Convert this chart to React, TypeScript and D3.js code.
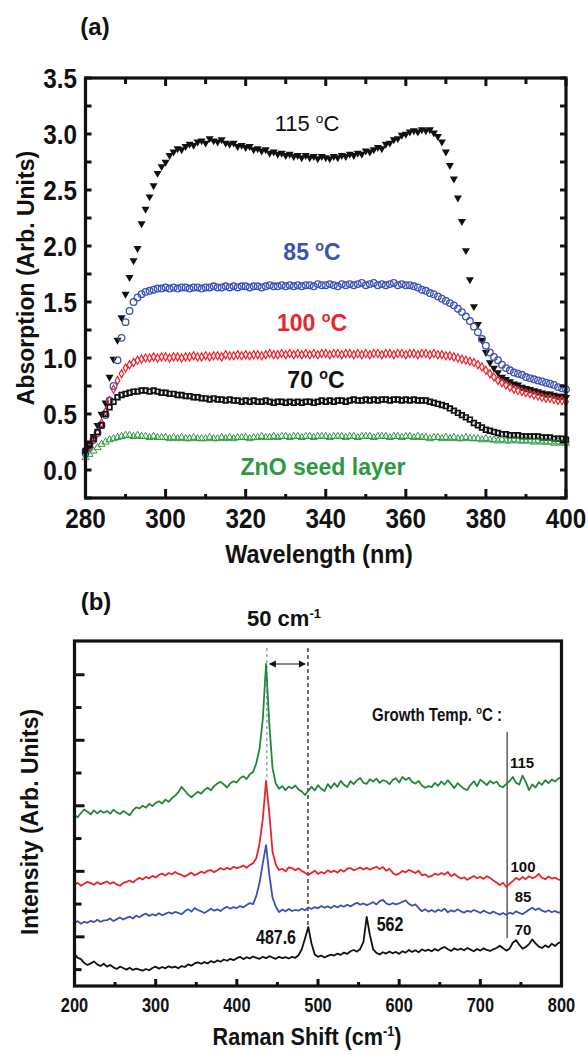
import React from "react";
import * as d3 from "d3";

// ---------- Panel (a): absorption spectra, 1 nm steps from 280 to 400 nm ----------
const wavelengths = d3.range(280, 401, 1);

const abs115 = [
  0.16, 0.22, 0.30, 0.40, 0.50, 0.60, 0.83, 0.99, 1.16, 1.36,
  1.57, 1.72, 1.87, 1.98, 2.20, 2.33, 2.44, 2.54, 2.65, 2.71,
  2.75, 2.81, 2.84, 2.87, 2.86, 2.89, 2.91, 2.90, 2.93, 2.94,
  2.92, 2.96, 2.94, 2.93, 2.95, 2.92, 2.91, 2.92, 2.89, 2.90,
  2.88, 2.89, 2.86, 2.87, 2.85, 2.86, 2.83, 2.84, 2.82, 2.83,
  2.81, 2.82, 2.80, 2.81, 2.79, 2.81, 2.79, 2.80, 2.78, 2.80,
  2.79, 2.78, 2.80, 2.79, 2.81, 2.80, 2.82, 2.81, 2.83, 2.82,
  2.85, 2.84, 2.86, 2.88, 2.87, 2.91, 2.92, 2.95, 2.96, 2.99,
  3.00, 3.02, 3.03, 3.02, 3.04, 3.03, 3.04, 3.01, 2.98, 2.93,
  2.84, 2.72, 2.60, 2.43, 2.22, 1.96, 1.70, 1.46, 1.30, 1.16,
  1.05, 0.96, 0.91, 0.87, 0.83, 0.81, 0.79, 0.77, 0.76, 0.74,
  0.73, 0.72, 0.71, 0.70, 0.69, 0.68, 0.68, 0.67, 0.66, 0.66, 0.65,
];

const abs85 = [
  0.15, 0.20, 0.27, 0.33, 0.40, 0.49, 0.62, 0.75, 0.98, 1.18,
  1.32, 1.42, 1.50, 1.54, 1.57, 1.59, 1.60, 1.61, 1.62, 1.62,
  1.63, 1.62, 1.63, 1.62, 1.63, 1.63, 1.62, 1.63, 1.63, 1.62,
  1.63, 1.63, 1.64, 1.63, 1.63, 1.64, 1.63, 1.64, 1.63, 1.64,
  1.64, 1.63, 1.64, 1.64, 1.63, 1.64, 1.65, 1.64, 1.64, 1.65,
  1.64, 1.65, 1.64, 1.65, 1.64, 1.65, 1.65, 1.64, 1.66, 1.65,
  1.65, 1.66, 1.65, 1.64, 1.66, 1.65, 1.66, 1.65, 1.66, 1.67,
  1.65, 1.66, 1.67, 1.65, 1.66, 1.65, 1.66, 1.67, 1.65, 1.66,
  1.65, 1.65, 1.64, 1.63, 1.61, 1.60, 1.58, 1.57, 1.55, 1.53,
  1.51, 1.49, 1.47, 1.44, 1.41, 1.37, 1.33, 1.28, 1.23, 1.17,
  1.11, 1.05, 1.01, 0.98, 0.94, 0.91, 0.89, 0.87, 0.86, 0.85,
  0.83, 0.82, 0.81, 0.80, 0.79, 0.78, 0.77, 0.76, 0.74, 0.73, 0.72,
];

const abs100 = [
  0.17, 0.21, 0.27, 0.33, 0.42, 0.52, 0.62, 0.72, 0.80, 0.86,
  0.91, 0.94, 0.96, 0.98, 0.99, 1.00, 1.00, 1.01, 1.00, 1.01,
  1.01, 1.00, 1.01, 1.01, 1.00, 1.01, 1.01, 1.02, 1.01, 1.01,
  1.02, 1.01, 1.02, 1.02, 1.01, 1.03, 1.02, 1.02, 1.03, 1.02,
  1.03, 1.02, 1.03, 1.03, 1.02, 1.03, 1.04, 1.03, 1.03, 1.04,
  1.03, 1.04, 1.03, 1.04, 1.03, 1.04, 1.03, 1.04, 1.03, 1.04,
  1.04, 1.03, 1.04, 1.04, 1.03, 1.04, 1.04, 1.03, 1.04, 1.03,
  1.04, 1.03, 1.04, 1.04, 1.03, 1.04, 1.04, 1.03, 1.04, 1.04,
  1.03, 1.04, 1.04, 1.03, 1.04, 1.04, 1.03, 1.04, 1.03, 1.03,
  1.02, 1.02, 1.01, 1.00, 0.99, 0.98, 0.97, 0.96, 0.94, 0.92,
  0.89, 0.86, 0.83, 0.80, 0.78, 0.76, 0.74, 0.72, 0.71, 0.70,
  0.69, 0.68, 0.67, 0.66, 0.65, 0.64, 0.64, 0.63, 0.62, 0.62, 0.61,
];

const abs70 = [
  0.17, 0.22, 0.28, 0.34, 0.40, 0.50, 0.56, 0.61, 0.65, 0.67,
  0.68, 0.69, 0.70, 0.70, 0.71, 0.71, 0.70, 0.71, 0.70, 0.69,
  0.69, 0.68, 0.68, 0.67, 0.67, 0.66, 0.66, 0.65, 0.65, 0.64,
  0.64, 0.63, 0.64, 0.63, 0.63, 0.62, 0.63, 0.62, 0.62, 0.61,
  0.62, 0.61, 0.62, 0.61, 0.61, 0.62, 0.61, 0.60, 0.61, 0.61,
  0.60, 0.61, 0.60, 0.61, 0.60, 0.61, 0.61, 0.60, 0.61, 0.62,
  0.61, 0.62, 0.61, 0.62, 0.62, 0.61, 0.62, 0.63, 0.62, 0.62,
  0.63, 0.62, 0.63, 0.62, 0.63, 0.63, 0.62, 0.63, 0.63, 0.62,
  0.63, 0.62, 0.63, 0.62, 0.62, 0.62, 0.61, 0.60, 0.59, 0.58,
  0.57, 0.55, 0.53, 0.51, 0.49, 0.47, 0.45, 0.42, 0.40, 0.38,
  0.36, 0.35, 0.34, 0.33, 0.32, 0.32, 0.31, 0.31, 0.31, 0.30,
  0.30, 0.30, 0.30, 0.30, 0.29, 0.29, 0.29, 0.28, 0.28, 0.28, 0.27,
];

const absSeed = [
  0.11, 0.14, 0.17, 0.20, 0.23, 0.25, 0.27, 0.28, 0.29, 0.30,
  0.31, 0.31, 0.30, 0.31, 0.30, 0.30, 0.29, 0.30, 0.29, 0.29,
  0.29, 0.28, 0.29, 0.28, 0.29, 0.28, 0.28, 0.29, 0.28, 0.28,
  0.28, 0.29, 0.28, 0.28, 0.29, 0.28, 0.29, 0.28, 0.29, 0.29,
  0.29, 0.28, 0.29, 0.29, 0.30, 0.29, 0.29, 0.30, 0.29, 0.30,
  0.30, 0.29, 0.30, 0.30, 0.29, 0.30, 0.30, 0.29, 0.30, 0.30,
  0.30, 0.29, 0.30, 0.30, 0.30, 0.29, 0.30, 0.30, 0.29, 0.30,
  0.30, 0.30, 0.29, 0.30, 0.30, 0.30, 0.29, 0.30, 0.30, 0.29,
  0.30, 0.30, 0.29, 0.30, 0.29, 0.29, 0.28, 0.29, 0.29, 0.28,
  0.29, 0.28, 0.29, 0.28, 0.28, 0.29, 0.28, 0.28, 0.28, 0.27,
  0.28, 0.27, 0.27, 0.26, 0.27, 0.26, 0.26, 0.27, 0.26, 0.26,
  0.26, 0.26, 0.25, 0.26, 0.25, 0.25, 0.25, 0.24, 0.25, 0.24, 0.24,
];

const absXTicks = [280, 300, 320, 340, 360, 380, 400];
const absYTicks = [0.0, 0.5, 1.0, 1.5, 2.0, 2.5, 3.0, 3.5];

// ---------- Panel (b): Raman spectra, 4 cm-1 steps from 200 to 800 ----------
const ramanShift = d3.range(200, 801, 4);

const raman115 = [
  52.2, 51.5, 52.8, 53.9, 53.2, 52.4, 53.6, 52.7, 53.5, 52.9,
  53.4, 52.6, 53.8, 53.0, 52.5, 53.4, 52.8, 52.1, 53.6, 54.5,
  54.2, 55.0, 54.4, 55.6, 54.9, 55.9, 56.4, 55.7, 56.9, 56.2,
  57.3, 58.1, 59.2, 60.8, 59.6, 58.4, 57.6, 58.5, 59.3, 58.7,
  59.8, 60.5, 59.7, 61.0, 61.8, 62.3, 61.5, 60.6, 61.9, 62.5,
  62.1, 63.4, 64.0, 63.2, 64.6, 65.3, 68.0, 72.5, 81.5, 98.3,
  80.0, 66.5, 61.8, 60.2, 61.0, 59.8, 60.9, 60.3, 61.2, 60.0,
  59.4, 58.3, 59.6, 60.8, 59.7, 61.3, 60.2, 59.5, 61.6, 60.4,
  61.9, 60.8, 62.6, 61.4, 60.7, 62.5, 61.6, 62.8, 63.5, 62.0,
  61.7, 63.1, 62.4, 63.3, 62.0, 62.8, 62.5, 61.6, 62.9, 63.4,
  62.1, 63.8, 62.9, 63.6, 62.3, 61.8, 62.6, 61.2, 60.5, 61.0,
  60.7, 62.0, 61.1, 62.4, 61.5, 62.8, 61.6, 60.4, 61.9, 61.0,
  60.2, 59.8, 61.4, 62.5, 61.0, 63.0, 62.2, 61.3, 62.6, 61.8,
  62.4, 61.0, 60.7, 61.7, 62.5, 63.8, 62.0, 61.5, 64.2, 62.3,
  59.8, 61.5, 60.6, 62.2, 61.4, 62.8, 61.9, 63.0, 62.4, 63.3, 63.8,
];

const raman100 = [
  30.8, 31.5, 30.6, 31.2, 31.8, 31.4, 30.9, 31.7, 31.1, 31.5,
  31.9, 31.2, 31.7, 31.0, 30.6, 31.5, 31.8, 32.2, 31.6, 32.4,
  33.0, 32.5, 33.3, 32.8, 33.6, 33.1, 33.9, 34.3, 33.7, 34.5,
  34.1, 34.8, 34.2, 33.9, 33.4, 34.0, 34.6, 33.8, 34.3, 34.9,
  34.5, 35.2, 35.4, 34.7, 35.3, 36.0, 35.5, 36.1, 35.6, 36.4,
  36.0, 36.3, 36.8, 36.1, 36.9, 37.5, 39.0, 43.5, 51.0, 62.6,
  52.8, 41.0, 37.0, 35.4, 35.8, 35.0, 36.2, 36.0, 35.3, 35.9,
  35.1, 34.6, 33.9, 34.5, 35.2, 34.2, 34.8, 34.4, 35.3, 34.7,
  35.2, 34.6, 35.5, 34.9, 35.8, 36.0, 35.3, 35.7, 36.2, 35.6,
  36.1, 35.5, 36.0, 36.4, 35.7, 36.3, 35.2, 35.8, 34.6, 33.9,
  34.3, 35.1, 34.7, 35.4, 35.0, 34.5, 35.2, 33.8, 34.1, 33.3,
  33.6, 34.3, 33.9, 34.5, 34.0, 34.8, 33.5, 34.2, 33.4, 32.8,
  33.2, 32.4, 33.0, 33.6, 32.9, 33.3, 32.7, 33.5, 33.0, 32.2,
  31.6, 30.8, 31.5, 30.2, 31.2, 32.0, 33.0, 32.4, 33.3, 32.6,
  33.5, 32.9, 33.3, 34.2, 33.0, 32.6, 33.4, 32.8, 33.1, 32.5, 32.4,
];

const raman85 = [
  19.2, 19.8, 19.0, 19.6, 19.3, 19.9, 19.5, 20.2, 19.6, 20.0,
  20.1, 20.6, 19.8, 20.4, 20.9, 20.3, 20.8, 21.2, 20.6, 21.5,
  21.0, 21.7, 22.1, 21.4, 21.9, 21.5, 22.2, 21.6, 22.0, 22.5,
  22.1, 22.6, 22.3, 21.9, 22.8, 23.4, 22.7, 23.8, 23.2, 22.8,
  22.3, 22.9, 23.6, 23.0, 23.4, 22.9, 23.7, 24.2, 23.6, 24.1,
  23.8, 24.4, 24.0, 24.7, 25.3, 25.0, 27.5, 31.5, 37.5, 43.0,
  34.0, 27.0, 24.2, 22.6, 23.3, 22.8, 23.5, 22.9, 23.2, 23.0,
  23.6, 23.1, 24.0, 23.5, 24.1, 23.7, 24.4, 23.9, 24.3, 23.8,
  24.5, 24.0, 24.6, 24.2, 24.8, 24.3, 24.9, 25.4, 24.8, 25.2,
  24.7, 25.1, 25.6, 24.9, 25.9, 26.3, 25.2, 24.8, 25.3, 24.9,
  25.2, 25.7, 26.1, 25.1, 24.5, 24.9, 23.8, 22.8, 23.4, 22.7,
  23.2, 22.6, 23.3, 22.9, 23.6, 22.5, 23.1, 22.7, 23.4, 22.8,
  22.4, 23.0, 22.6, 23.2, 22.8, 22.3, 23.0, 22.5, 22.1, 22.7,
  22.2, 21.8, 22.3, 21.7, 22.4, 22.0, 22.8, 22.3, 21.9, 22.6,
  23.3, 23.9, 23.2, 23.7, 23.0, 22.6, 23.1, 22.5, 22.9, 22.4, 22.6,
];

const raman70 = [
  9.8, 8.6, 8.2, 7.0, 6.4, 6.9, 7.5, 6.6, 6.1, 6.8,
  5.9, 6.4, 5.7, 5.2, 5.9, 5.5, 5.0, 5.6, 4.9, 5.3,
  5.0, 4.7, 5.2, 4.8, 5.5, 5.9, 5.3, 5.8, 5.4, 6.0,
  5.6, 5.9, 5.4, 6.1, 5.8, 6.6, 6.2, 6.9, 7.2, 6.8,
  7.3, 6.9, 7.6, 7.2, 7.8, 7.4, 8.1, 7.7, 8.3, 7.9,
  8.5, 8.9, 8.2, 8.8, 8.4, 9.0, 8.6, 8.3, 8.9, 8.5,
  9.1, 8.7, 8.3, 8.9, 8.5, 8.8, 8.4, 8.9, 8.6, 9.4,
  11.2, 14.5, 18.0, 13.0, 9.6, 8.9, 9.3, 8.7, 9.2, 9.6,
  9.3, 9.9, 9.5, 10.2, 9.8, 10.6, 11.0, 10.5, 11.3, 13.5,
  21.1, 15.5, 11.2, 10.1, 9.6, 10.3, 9.9, 10.5, 10.0, 10.4,
  9.8, 10.6, 10.2, 11.0, 10.4, 10.9, 10.3, 11.2, 10.7, 11.1,
  10.6, 11.3, 10.8, 11.5, 11.9, 11.2, 10.7, 11.5, 11.0, 11.4,
  10.9, 11.6, 11.1, 10.6, 11.3, 10.8, 11.5, 11.0, 10.7, 11.2,
  11.6, 12.3, 11.5, 10.8, 11.4, 13.2, 14.0, 12.6, 11.4, 11.9,
  12.8, 14.2, 13.0, 12.0, 11.6, 12.4, 11.8, 12.9, 12.2, 13.1, 13.5,
];

const ramanXTicks = [200, 300, 400, 500, 600, 700, 800];
const ramanXMinor = [250, 350, 450, 550, 650, 750];
const ramanYTicks = [5, 15, 25, 35, 45, 55, 65, 75, 85, 95];
const peakE2 = 437;
const peakSi = 487.6;
const growthLine = 733;

const FONT = "'Liberation Sans', Arial, Helvetica, sans-serif";

const BLACK = "#111111";
const BLUE = "#3b52b3";
const RED = "#e8242c";
const GREEN = "#2a9a3e";
const GREEN_LINE = "#22873a";

type TxtProps = {
  x: number; y: number; size: number; sx?: number; anchor?: string;
  weight?: string | number; fill?: string; children?: React.ReactNode; rotate?: number;
};
const Txt = ({ x, y, size, sx = 1, anchor = "middle", weight = "bold", fill = BLACK, children, rotate = 0 }: TxtProps) => (
  <text
    transform={`translate(${x},${y}) rotate(${rotate}) scale(${sx},1)`}
    textAnchor={anchor as any}
    fontSize={size}
    fontWeight={weight as any}
    fill={fill}
    fontFamily={FONT}
  >
    {children}
  </text>
);

const Deg = ({ size, txt }: { size: number; txt: string }) => (
  <>
    <tspan dy={-size * 0.38} fontSize={size * 0.62}>o</tspan>
    <tspan dy={size * 0.38}>{txt}</tspan>
  </>
);

export default function App() {
  // scales panel (a)
  const ax = d3.scaleLinear().domain([280, 400]).range([85.5, 566]);
  const ay = d3.scaleLinear().domain([-0.25, 3.5]).range([498, 78]);
  // scales panel (b)
  const bx = d3.scaleLinear().domain([200, 800]).range([74.5, 561.5]);
  const by = d3.scaleLinear().domain([0, 105]).range([986, 642]);

  const line = d3.line<number>()
    .x((_, i) => bx(ramanShift[i]))
    .y((d) => by(d))
    .curve(d3.curveLinear);

  const triDown = d3.symbol().type(d3.symbolTriangle).size(28)();
  const triUp = d3.symbol().type(d3.symbolTriangle).size(22)();
  const diamond = d3.symbol().type(d3.symbolDiamond).size(19)();
  const square = d3.symbol().type(d3.symbolSquare).size(22)();

  const aMinorX = d3.range(290, 400, 20);
  const aYAll = d3.range(-0.25, 3.51, 0.25);

  return (
    <svg width={588} height={1054} style={{ position: "absolute", left: 0, top: 0, background: "#fff" }}>
      <rect x={0} y={0} width={588} height={1054} fill="#fff" />

      {/* ================= Panel (a) ================= */}
      <Txt x={95} y={35} size={24}>(a)</Txt>

      {/* series */}
      <g>
        {abs115.map((v, i) => (
          <path key={"k" + i} d={triDown!} transform={`translate(${ax(wavelengths[i])},${ay(v)}) rotate(180)`} fill={BLACK} />
        ))}
        {abs85.map((v, i) => (
          <circle key={"b" + i} cx={ax(wavelengths[i])} cy={ay(v)} r={3.3} fill="none" stroke={BLUE} strokeWidth={1.3} />
        ))}
        {abs100.map((v, i) => (
          <path key={"r" + i} d={diamond!} transform={`translate(${ax(wavelengths[i])},${ay(v)})`} fill="none" stroke={RED} strokeWidth={1.2} />
        ))}
        {abs70.map((v, i) => (
          <path key={"s" + i} d={square!} transform={`translate(${ax(wavelengths[i])},${ay(v)})`} fill="none" stroke={BLACK} strokeWidth={1.7} />
        ))}
        {absSeed.map((v, i) => (
          <path key={"g" + i} d={triUp!} transform={`translate(${ax(wavelengths[i])},${ay(v)})`} fill="none" stroke={GREEN} strokeWidth={1} />
        ))}
      </g>

      {/* frame & ticks */}
      <rect x={ax(280)} y={ay(3.5)} width={ax(400) - ax(280)} height={ay(-0.25) - ay(3.5)} fill="none" stroke={BLACK} strokeWidth={3.2} />
      {absXTicks.map((t) => (
        <g key={"axt" + t}>
          <line x1={ax(t)} x2={ax(t)} y1={ay(-0.25)} y2={ay(-0.25) - 9} stroke={BLACK} strokeWidth={3} />
          <line x1={ax(t)} x2={ax(t)} y1={ay(3.5)} y2={ay(3.5) + 8} stroke={BLACK} strokeWidth={3} />
          <Txt x={ax(t)} y={528} size={27} sx={0.9}>{String(t)}</Txt>
        </g>
      ))}
      {aMinorX.map((t) => (
        <g key={"axm" + t}>
          <line x1={ax(t)} x2={ax(t)} y1={ay(-0.25)} y2={ay(-0.25) - 4} stroke={BLACK} strokeWidth={3} />
          <line x1={ax(t)} x2={ax(t)} y1={ay(3.5)} y2={ay(3.5) + 6} stroke={BLACK} strokeWidth={3} />
        </g>
      ))}
      {aYAll.map((t) => (
        <g key={"ayt" + t.toFixed(2)}>
          <line x1={ax(280)} x2={ax(280) + 6} y1={ay(t)} y2={ay(t)} stroke={BLACK} strokeWidth={3} />
          <line x1={ax(400)} x2={ax(400) - 6} y1={ay(t)} y2={ay(t)} stroke={BLACK} strokeWidth={3} />
        </g>
      ))}
      {absYTicks.map((t) => (
        <Txt key={"ayl" + t} x={77} y={ay(t) + 9.5} size={27} sx={0.9} anchor="end">{t.toFixed(1)}</Txt>
      ))}

      {/* annotations */}
      <Txt x={307} y={131} size={22} weight={500}>115 <Deg size={22} txt="C" /></Txt>
      <Txt x={312} y={260} size={23} fill={BLUE}>85 <Deg size={23} txt="C" /></Txt>
      <Txt x={312} y={331} size={23} fill={RED}>100 <Deg size={23} txt="C" /></Txt>
      <Txt x={316} y={388} size={23}>70 <Deg size={23} txt="C" /></Txt>
      <Txt x={323} y={475} size={23} fill={GREEN}>ZnO seed layer</Txt>

      <Txt x={319} y={563} size={26} sx={0.9}>Wavelength (nm)</Txt>
      <text transform="translate(26,278) rotate(-90)" textAnchor="middle" dominantBaseline="central" fontSize={23} fontWeight="bold" fontFamily={FONT} fill={BLACK}>
        Absorption (Arb. Units)
      </text>

      {/* ================= Panel (b) ================= */}
      <Txt x={96} y={610} size={24}>(b)</Txt>
      <Txt x={284} y={626} size={22}>
        50 cm<tspan dy={-8} fontSize={13}>-1</tspan>
      </Txt>

      {/* reference lines */}
      <line x1={bx(peakE2)} x2={bx(peakE2)} y1={648} y2={780} stroke="#777" strokeWidth={1} strokeDasharray="3,3" />
      <line x1={bx(peakSi)} x2={bx(peakSi)} y1={648} y2={by(18.5)} stroke={BLACK} strokeWidth={1.2} strokeDasharray="4,3" />
      <line x1={bx(peakE2) + 3} x2={bx(peakSi) - 3} y1={664} y2={664} stroke={BLACK} strokeWidth={1.2} />
      <path d={`M${bx(peakE2) + 2},664 l7,-3.5 l0,7 z`} fill={BLACK} />
      <path d={`M${bx(peakSi) - 2},664 l-7,-3.5 l0,7 z`} fill={BLACK} />
      <line x1={bx(growthLine)} x2={bx(growthLine)} y1={732} y2={938} stroke="#333" strokeWidth={1.2} />

      {/* spectra */}
      <path d={line(raman115)!} fill="none" stroke={GREEN_LINE} strokeWidth={1.8} strokeLinejoin="round" />
      <path d={line(raman100)!} fill="none" stroke={RED} strokeWidth={1.8} strokeLinejoin="round" />
      <path d={line(raman85)!} fill="none" stroke={BLUE} strokeWidth={1.8} strokeLinejoin="round" />
      <path d={line(raman70)!} fill="none" stroke={BLACK} strokeWidth={1.8} strokeLinejoin="round" />

      {/* frame & ticks */}
      <rect x={bx(200)} y={641} width={bx(800) - bx(200)} height={986 - 641} fill="none" stroke={BLACK} strokeWidth={3.2} />
      {ramanXTicks.map((t) => (
        <g key={"bxt" + t}>
          <line x1={bx(t)} x2={bx(t)} y1={986} y2={979} stroke={BLACK} strokeWidth={3} />
          <Txt x={bx(t)} y={1012} size={19.5} sx={0.84}>{String(t)}</Txt>
        </g>
      ))}
      {ramanXMinor.map((t) => (
        <line key={"bxm" + t} x1={bx(t)} x2={bx(t)} y1={986} y2={982} stroke={BLACK} strokeWidth={3} />
      ))}
      {ramanYTicks.map((t, i) => (
        <line key={"byt" + t} x1={bx(200)} x2={bx(200) + (i % 2 === 1 ? 10 : 7)} y1={by(t)} y2={by(t)} stroke={BLACK} strokeWidth={3} />
      ))}

      {/* labels */}
      <Txt x={502} y={721} size={17.5} sx={0.86} anchor="end">
        Growth Temp. <Deg size={17.5} txt="C :" />
      </Txt>
      <Txt x={522} y={768} size={15}>115</Txt>
      <Txt x={523} y={872} size={15}>100</Txt>
      <Txt x={523} y={902} size={15}>85</Txt>
      <Txt x={523} y={935} size={15}>70</Txt>
      <Txt x={276} y={944} size={20} sx={0.8}>487.6</Txt>
      <Txt x={390} y={931} size={20} sx={0.8}>562</Txt>

      <Txt x={307} y={1045} size={24} sx={0.9}>
        Raman Shift (cm<tspan dy={-9} fontSize={14}>-1</tspan><tspan dy={9}>)</tspan>
      </Txt>
      <text transform="translate(30,822) rotate(-90)" textAnchor="middle" dominantBaseline="central" fontSize={23} fontWeight="bold" fontFamily={FONT} fill={BLACK}>
        Intensity (Arb. Units)
      </text>
    </svg>
  );
}
